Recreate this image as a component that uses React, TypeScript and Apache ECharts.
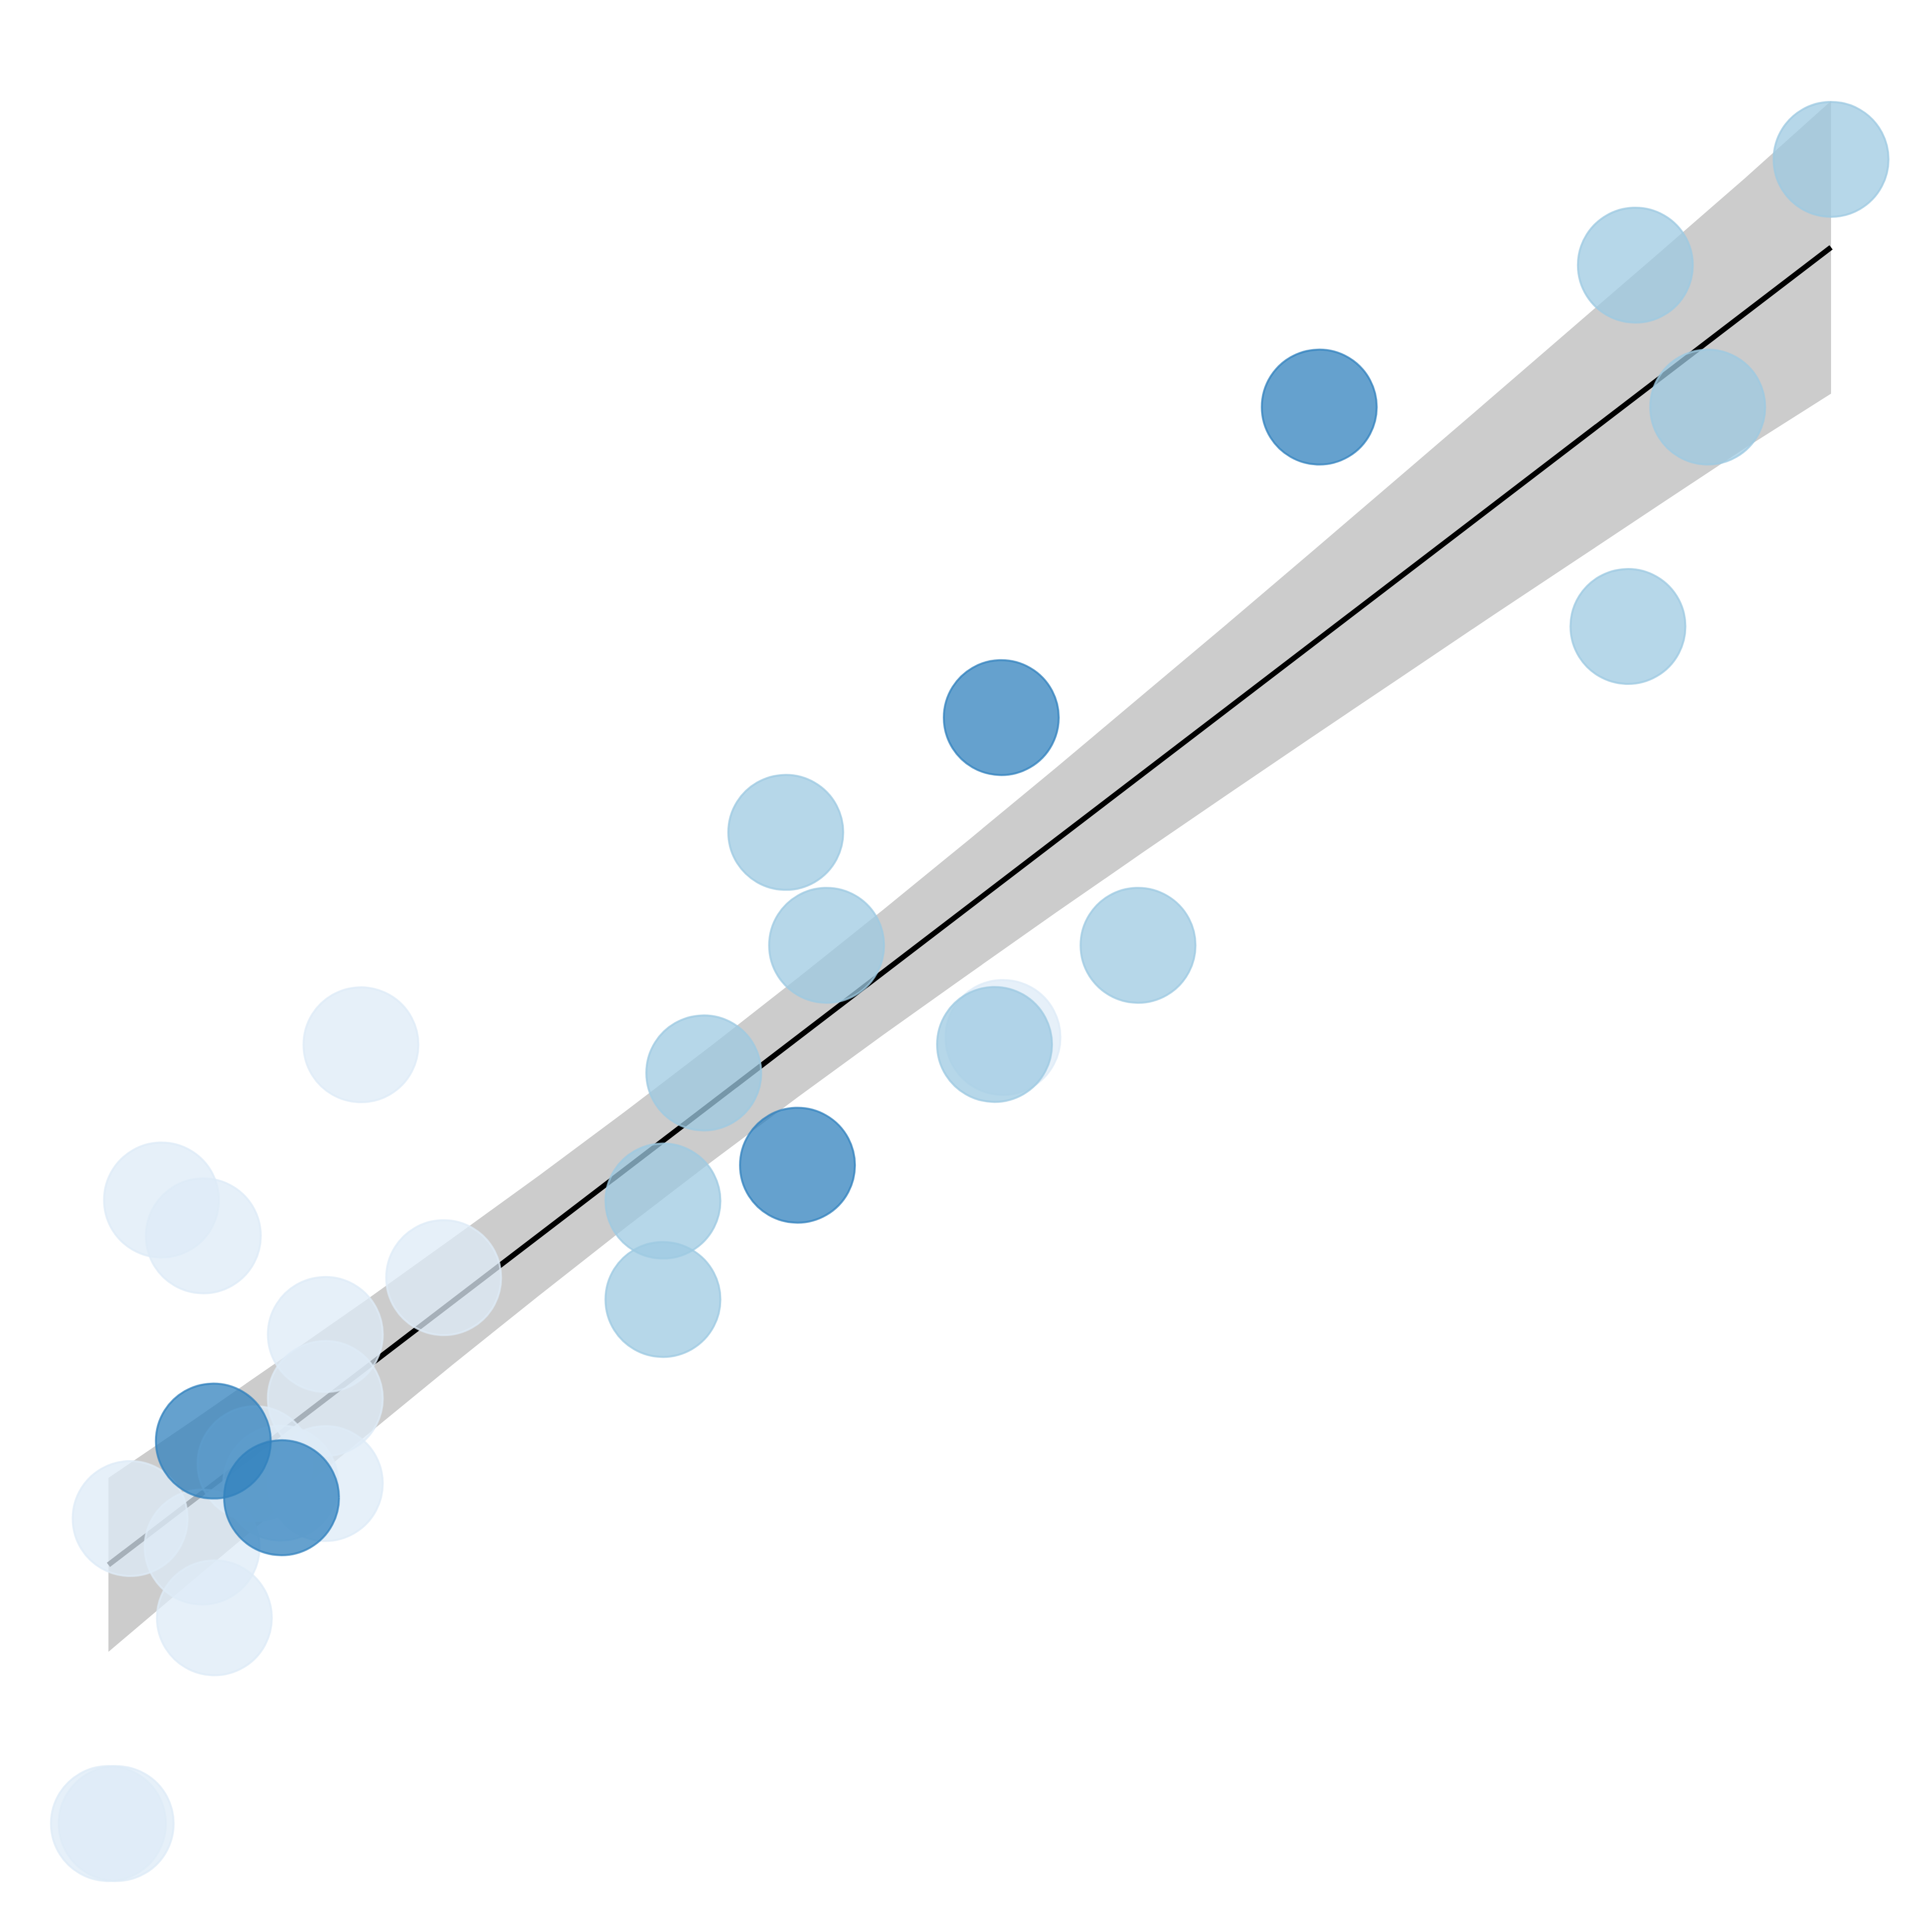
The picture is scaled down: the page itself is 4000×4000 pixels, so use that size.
import React, { useEffect, useRef } from "react";
import * as echarts from "echarts";

// Scatter points [x, y] per hue level
const lightPoints: number[][] = [
  [14.66, 46.75], [3.08, 37.43], [5.51, 35.28], [19.46, 32.77], [12.59, 29.36],
  [12.59, 25.52], [8.51, 21.6], [12.59, 20.41], [1.26, 18.31], [5.44, 16.6],
  [6.15, 12.35], [0, 0], [0.45, 0], [51.93, 47.19], [10.0, 20.44],
];
const mediumPoints: number[][] = [
  [100, 99.9], [88.64, 93.55], [92.84, 85.03], [88.21, 71.86], [39.32, 59.5],
  [41.69, 52.72], [59.77, 52.72], [51.44, 46.77], [34.56, 45.06], [32.19, 37.37],
  [32.19, 31.46],
];
const darkPoints: number[][] = [
  [70.29, 85.03], [51.83, 66.39], [40.0, 39.52], [6.09, 22.96], [10.05, 19.56],
];

// Regression line
const fitX = [0, 100];
const fitY = [15.53, 94.62];

// Confidence band edges
const bandX = [0, 5, 10, 15, 20, 25, 30, 35, 40, 45, 50, 55, 60, 65, 70, 75, 80, 85, 90, 95, 100];
const bandUpper = [
  20.75, 24.27, 27.85, 31.46, 35.16, 38.9, 42.75, 46.7, 50.75, 54.88, 59.1,
  63.37, 67.72, 72.07, 76.47, 80.9, 85.34, 89.81, 94.27, 98.77, 103.41,
];
const bandLower = [
  10.31, 14.69, 19.03, 23.32, 27.56, 31.7, 35.76, 39.72, 43.59, 47.36, 51.04,
  54.68, 58.26, 61.8, 65.31, 68.79, 72.27, 75.7, 79.14, 82.56, 85.84,
];

const lightColor = "rgba(222,235,247,0.75)";
const mediumColor = "rgba(158,202,225,0.75)";
const darkColor = "rgba(49,130,189,0.75)";

function scatter(name: string, data: number[][], color: string, z: number) {
  return {
    name,
    type: "scatter",
    data,
    symbol: "circle",
    symbolSize: 238,
    clip: false,
    z,
    itemStyle: { color, borderColor: color, borderWidth: 4, opacity: 1 },
    emphasis: { disabled: true },
  };
}

export default function App() {
  const ref = useRef<HTMLDivElement>(null);
  useEffect(() => {
    if (!ref.current) return;
    const chart = echarts.init(ref.current, null, { renderer: "svg" });
    chart.setOption({
      animation: false,
      backgroundColor: "#ffffff",
      grid: { left: 224.5, right: 209, top: 326.5, bottom: 224.5 },
      xAxis: { type: "value", min: 0, max: 100, show: false },
      yAxis: { type: "value", min: 0, max: 100, show: false },
      series: [
        {
          name: "band",
          type: "custom",
          z: 1,
          clip: false,
          silent: true,
          data: [[0, 0]],
          renderItem: (_params: any, api: any) => {
            const pts: number[][] = [];
            for (let i = 0; i < bandX.length; i++) pts.push(api.coord([bandX[i], bandUpper[i]]));
            for (let i = bandX.length - 1; i >= 0; i--) pts.push(api.coord([bandX[i], bandLower[i]]));
            return { type: "polygon", shape: { points: pts }, style: { fill: "#cccccc" } };
          },
        },
        {
          name: "fit",
          type: "line",
          z: 2,
          clip: false,
          data: fitX.map((x, i) => [x, fitY[i]]),
          showSymbol: false,
          symbol: "none",
          lineStyle: { color: "#000000", width: 11 },
          emphasis: { disabled: true },
        },
        scatter("light", lightPoints, lightColor, 3),
        scatter("medium", mediumPoints, mediumColor, 4),
        scatter("dark", darkPoints, darkColor, 5),
      ],
    });
    return () => chart.dispose();
  }, []);
  return (
    <div
      ref={ref}
      style={{ position: "absolute", left: 0, top: 0, width: 4000, height: 4000, background: "#fff" }}
    />
  );
}
